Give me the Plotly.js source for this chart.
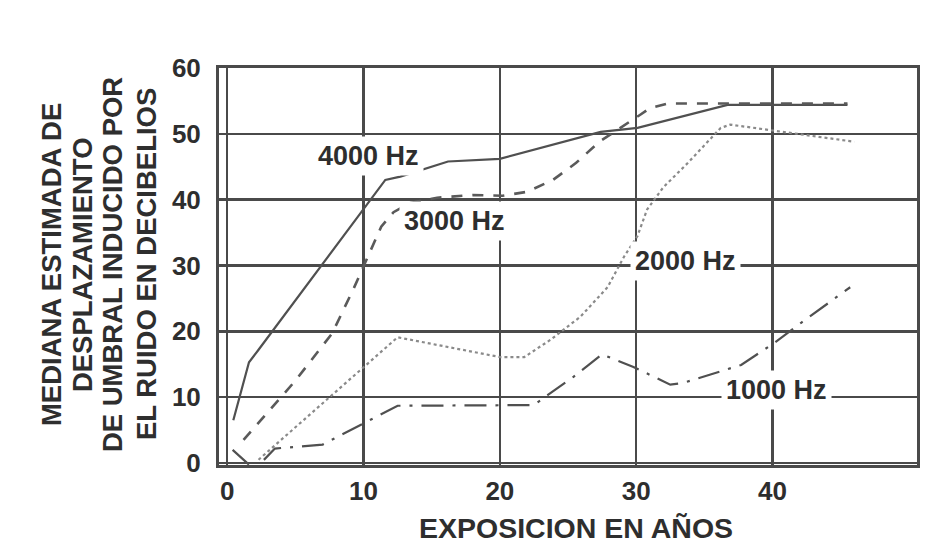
<!DOCTYPE html>
<html>
<head>
<meta charset="utf-8">
<script src="https://cdn.plot.ly/plotly-3.0.1.min.js"></script>
<style>html,body{margin:0;padding:0;background:#fff;}#chart{width:938px;height:548px;}</style>
</head>
<body>
<div id="chart"></div>
<script>
// Exposure in years (x) and median threshold shift in dB (y)
const x4000 = [0.45, 1.6, 2.3, 10.9, 11.6, 12.7, 16.2, 20, 27.4, 30.1, 36.7, 45.5];
const y4000 = [6.5, 15.3, 17.2, 41.2, 43, 43.5, 45.8, 46.2, 50.3, 50.9, 54.4, 54.4];

const x3000 = [1.2, 5, 7.7, 9.3, 11.3, 12.2, 13.4, 15.4, 18, 20.2, 22, 23.9, 25.6, 27.3, 30.3, 31, 32.3, 45.5];
const y3000 = [3.5, 12.5, 19.7, 26.6, 35.9, 38.1, 39.5, 40.3, 40.7, 40.6, 41.2, 43, 45.6, 48.8, 52.9, 53.9, 54.6, 54.6];

const x2000 = [2.3, 12.5, 20, 21.8, 23.7, 25.9, 27.9, 29.1, 30.1, 30.8, 32, 33.8, 36.2, 36.9, 46];
const y2000 = [0.5, 19.1, 16.1, 16.1, 18.7, 22.2, 26.7, 31.3, 34.5, 38.5, 41.9, 45.6, 50.9, 51.4, 48.8];

const x1000 = [0.4, 2, 3.5, 7, 12.5, 22.5, 23.5, 25.4, 27.5, 29.8, 32.5, 33.5, 37.7, 40.1, 42.1, 45.7];
const y1000 = [2, -1, 2.2, 2.8, 8.7, 8.8, 10.3, 13.1, 16.5, 14.6, 11.9, 12.2, 14.9, 18.2, 21.3, 26.7];

const seriesNames = ["4000 Hz", "3000 Hz", "2000 Hz", "1000 Hz"];
const labelX = [10.33, 16.7, 33.6, 40.3];
const labelY = [46.7, 36.8, 30.7, 11.1];

const xTicks = [0, 10, 20, 30, 40];
const yTicks = [0, 10, 20, 30, 40, 50, 60];

const yTitleLines = ["MEDIANA ESTIMADA DE", "DESPLAZAMIENTO", "DE UMBRAL INDUCIDO POR", "EL RUIDO EN DECIBELIOS"];
const xTitle = "EXPOSICION EN AÑOS";

const FONT = "Liberation Sans, Arial, sans-serif";
const TXT = "#2e2e2e";
const GRID = "#4a4a4a";

const traces = [
  {x: x4000, y: y4000, mode: "lines", name: seriesNames[0],
   line: {color: "#505050", width: 2.2, dash: "solid"}},
  {x: x3000, y: y3000, mode: "lines", name: seriesNames[1],
   line: {color: "#5a5a5a", width: 2.6, dash: "11px,10px"}},
  {x: x2000, y: y2000, mode: "lines", name: seriesNames[2],
   line: {color: "#8a8a8a", width: 2.2, dash: "dot"}},
  {x: x1000, y: y1000, mode: "lines", name: seriesNames[3],
   line: {color: "#505050", width: 2.2, dash: "22px,9px,3px,9px"}}
];

const yTitleX = [-0.2407, -0.1963, -0.1533, -0.1046];
const annotations = [];
for (let i = 0; i < seriesNames.length; i++) {
  annotations.push({
    x: labelX[i], y: labelY[i], xref: "x", yref: "y",
    text: seriesNames[i], showarrow: false,
    xanchor: "center", yanchor: "middle",
    bgcolor: "#ffffff", borderpad: 4,
    font: {family: FONT, size: 27, color: TXT, weight: "bold"}
  });
}
for (let i = 0; i < yTitleLines.length; i++) {
  annotations.push({
    x: yTitleX[i], y: 0.506, xref: "paper", yref: "paper",
    text: yTitleLines[i], showarrow: false, textangle: -90,
    xanchor: "center", yanchor: "middle",
    font: {family: FONT, size: 27.5, color: TXT, weight: "bold"}
  });
}
annotations.push({
  x: 0.511, y: -0.158, xref: "paper", yref: "paper",
  text: xTitle, showarrow: false, xanchor: "center", yanchor: "middle",
  font: {family: FONT, size: 28.5, color: TXT, weight: "bold"}
});

const layout = {
  width: 938, height: 548,
  margin: {l: 219, r: 21, t: 68, b: 83},
  paper_bgcolor: "#ffffff", plot_bgcolor: "#ffffff",
  showlegend: false,
  xaxis: {
    range: [-0.6, 50.6], tickvals: xTicks, ticktext: xTicks.map(String),
    showgrid: true, gridcolor: GRID, gridwidth: 2.5,
    zeroline: false, showline: true, mirror: true, linecolor: GRID, linewidth: 3,
    ticks: "", ticklabelstandoff: 1,
    tickfont: {family: FONT, size: 26, color: TXT, weight: "bold"}
  },
  yaxis: {
    range: [-0.3, 60], tickvals: yTicks, ticktext: yTicks.map(String),
    showgrid: true, gridcolor: GRID, gridwidth: 2.5,
    zeroline: false, showline: true, mirror: true, linecolor: GRID, linewidth: 3,
    ticks: "", ticklabelstandoff: 10,
    tickfont: {family: FONT, size: 26, color: TXT, weight: "bold"}
  },
  annotations: annotations
};

Plotly.newPlot("chart", traces, layout, {displayModeBar: false, staticPlot: true});
</script>
</body>
</html>
